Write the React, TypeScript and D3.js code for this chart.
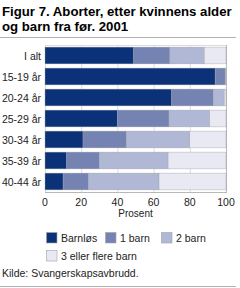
import { useEffect, useRef } from "react";
import * as d3 from "d3";

const categories = ["I alt", "15-19 år", "20-24 år", "25-29 år", "30-34 år", "35-39 år", "40-44 år"];
const seriesNames = ["Barnløs", "1 barn", "2 barn", "3 eller flere barn"];
const barnlos = [49, 94, 70, 40, 21, 12, 10];
const ettBarn = [20, 5.5, 23, 28.5, 24, 18, 14];
const toBarn = [19, 0.5, 6, 22.5, 35, 38, 39];
const treFlere = [12, 0, 1, 9, 20, 32, 37];
const xTicks = [0, 20, 40, 60, 80, 100];
const colors = ["#0b3279", "#7483b2", "#b0b8d6", "#e8e9f3"];

export default function App() {
  const svgRef = useRef<SVGSVGElement>(null);

  useEffect(() => {
    const svg = d3.select(svgRef.current);
    svg.selectAll("*").remove();

    const width = 240;
    const height = 288;
    const margin = { top: 45, right: 14, bottom: 96, left: 45 };
    const font = "'Liberation Sans', Arial, sans-serif";

    const series = [barnlos, ettBarn, toBarn, treFlere];
    const rows = categories.map((c, i) => {
      const r: any = { cat: c };
      seriesNames.forEach((s, k) => (r[s] = series[k][i]));
      return r;
    });
    const stacked = d3.stack().keys(seriesNames)(rows);

    const x = d3.scaleLinear().domain([0, 100]).range([margin.left, width - margin.right]);
    const y = d3
      .scaleBand()
      .domain(categories)
      .range([margin.top, height - margin.bottom])
      .paddingInner(0.2)
      .paddingOuter(0.1);

    // shrink a text until it fits the width seen in the reference
    const fit = (sel: any, maxW: number) => {
      const node = sel.node() as SVGTextElement;
      const w = node.getComputedTextLength();
      if (w > maxW) {
        const fs = parseFloat(sel.attr("font-size"));
        sel.attr("font-size", (fs * maxW) / w);
      }
    };

    // title
    const t1 = svg
      .append("text")
      .attr("x", 2)
      .attr("y", 16)
      .attr("font-family", font)
      .attr("font-weight", "bold")
      .attr("font-size", 13.5)
      .text("Figur 7. Aborter, etter kvinnens alder");
    fit(t1, 230);
    svg
      .append("text")
      .attr("x", 2)
      .attr("y", 31)
      .attr("font-family", font)
      .attr("font-weight", "bold")
      .attr("font-size", t1.attr("font-size"))
      .text("og barn fra før. 2001");

    svg.append("line").attr("x1", 0).attr("x2", 236).attr("y1", 37.5).attr("y2", 37.5).attr("stroke", "#b3b3b3").attr("stroke-width", 1.2);

    // grid
    svg
      .append("g")
      .selectAll("line")
      .data(xTicks)
      .enter()
      .append("line")
      .attr("x1", (d) => x(d) + 0.5)
      .attr("x2", (d) => x(d) + 0.5)
      .attr("y1", margin.top)
      .attr("y2", height - margin.bottom)
      .attr("stroke", (d) => (d === 100 ? "#b8b8b8" : "#dcdcdc"))
      .attr("stroke-width", 1);

    svg
      .append("line")
      .attr("x1", margin.left)
      .attr("x2", width - margin.right)
      .attr("y1", margin.top + 0.5)
      .attr("y2", margin.top + 0.5)
      .attr("stroke", "#dcdcdc");

    // bars
    svg
      .append("g")
      .selectAll("g")
      .data(stacked)
      .enter()
      .append("g")
      .attr("fill", (d, i) => colors[i])
      .selectAll("rect")
      .data((d) => d)
      .enter()
      .append("rect")
      .attr("x", (d) => x(d[0]))
      .attr("y", (d) => y(d.data.cat)!)
      .attr("width", (d) => x(d[1]) - x(d[0]))
      .attr("height", y.bandwidth())
      .attr("stroke", "#a0a0a8")
      .attr("stroke-width", 0.4);

    // x axis line
    svg
      .append("line")
      .attr("x1", margin.left)
      .attr("x2", width - margin.right + 1)
      .attr("y1", height - margin.bottom + 0.5)
      .attr("y2", height - margin.bottom + 0.5)
      .attr("stroke", "#b8b8b8");

    // category labels
    svg
      .append("g")
      .selectAll("text")
      .data(categories)
      .enter()
      .append("text")
      .attr("x", 41)
      .attr("y", (d) => y(d)! + y.bandwidth() / 2 + 4)
      .attr("text-anchor", "end")
      .attr("font-family", font)
      .attr("font-size", 10.5)
      .attr("fill", "#222")
      .text((d) => d);

    // tick labels
    svg
      .append("g")
      .selectAll("text")
      .data(xTicks)
      .enter()
      .append("text")
      .attr("x", (d) => x(d))
      .attr("y", 206)
      .attr("text-anchor", "middle")
      .attr("font-family", font)
      .attr("font-size", 10.5)
      .attr("fill", "#222")
      .text((d) => d);

    svg
      .append("text")
      .attr("x", (x(0) + x(100)) / 2)
      .attr("y", 217)
      .attr("text-anchor", "middle")
      .attr("font-family", font)
      .attr("font-size", 10)
      .attr("fill", "#222")
      .text("Prosent");

    // legend
    const legendPos = [
      [46, 232],
      [105, 232],
      [161, 232],
      [46, 250],
    ];
    const legend = svg
      .append("g")
      .selectAll("g")
      .data(seriesNames)
      .enter()
      .append("g")
      .attr("transform", (d, i) => `translate(${legendPos[i][0]},${legendPos[i][1]})`);

    legend
      .append("rect")
      .attr("x", 0.5)
      .attr("y", 0.5)
      .attr("width", 10.5)
      .attr("height", 10.5)
      .attr("fill", (d, i) => colors[i])
      .attr("stroke", "#a0a0a8")
      .attr("stroke-width", 0.6);

    legend
      .append("text")
      .attr("x", 15)
      .attr("y", 10)
      .attr("font-family", font)
      .attr("font-size", 10.5)
      .attr("fill", "#222")
      .text((d) => d);

    svg
      .append("text")
      .attr("x", 2)
      .attr("y", 277)
      .attr("font-family", font)
      .attr("font-size", 10.5)
      .attr("fill", "#222")
      .text("Kilde: Svangerskapsavbrudd.");

    svg.append("line").attr("x1", 0).attr("x2", 236).attr("y1", 286.5).attr("y2", 286.5).attr("stroke", "#b3b3b3").attr("stroke-width", 1.2);
  }, []);

  return (
    <svg
      ref={svgRef}
      width={240}
      height={288}
      style={{ position: "absolute", left: 0, top: 0, background: "#fff" }}
    />
  );
}
